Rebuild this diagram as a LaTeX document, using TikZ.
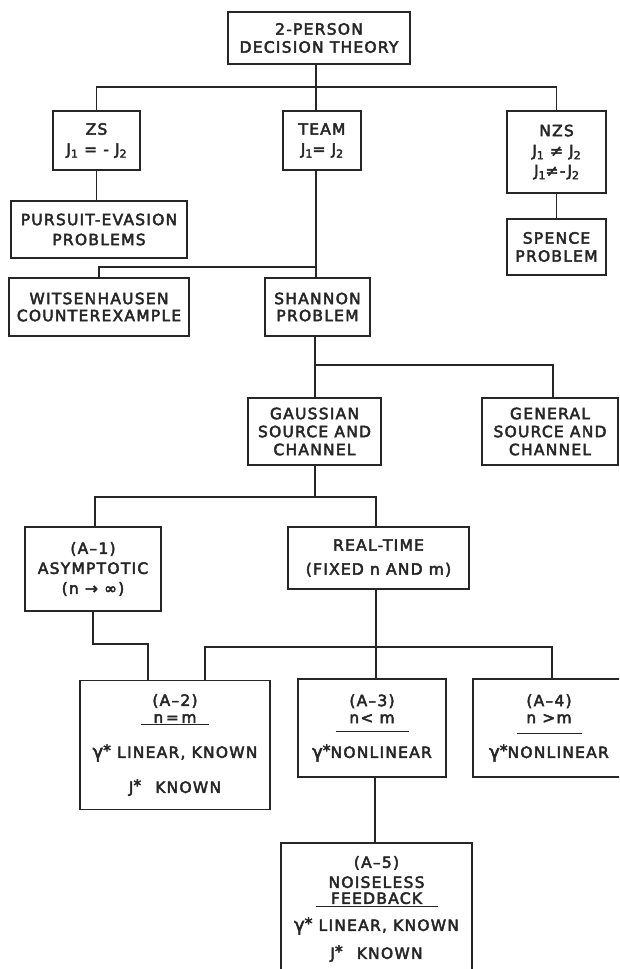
\documentclass[tikz,border=0pt]{standalone}
\usepackage{fontspec}
\newfontfamily\lett[LetterSpace=8,FakeBold=3]{DejaVu Sans}
\definecolor{ink}{HTML}{262626}
\newcommand\jsub[1]{\raisebox{-3pt}{\fontsize{11pt}{10pt}\selectfont #1}}
\newcommand\ulbox[3]{\vtop{\hbox to #1{\hss#3\hss}\kern#2\hrule height 1.3pt}}
\newcommand\gst{{\fontsize{18pt}{17pt}\selectfont γ}\raisebox{2pt}{*}}
\newcommand\jst{J\raisebox{2pt}{*}}
\begin{document}
\begin{tikzpicture}[x=1pt,y=-1pt,
  box/.style={draw=ink,line width=1.8pt,inner sep=0pt,align=center,text=ink,
              font=\lett\fontsize{15.5pt}{20pt}\selectfont},
  wire/.style={draw=ink,line width=1.3pt}]
\useasboundingbox (0,0) rectangle (619,969);
\fill[white] (0,0) rectangle (619,969);
\clip (0,0) rectangle (619,969);

% boxes
\node[box,minimum width=182,minimum height=52] (top) at (319,38) {2-PERSON\\[-2pt]DECISION THEORY};
\node[box,minimum width=87,minimum height=59] (zs) at (96.5,140.5) {ZS\\J\jsub{1} = - J\jsub{2}};
\node[box,minimum width=78,minimum height=59] (team) at (322,140.5) {TEAM\\J\jsub{1}= J\jsub{2}};
\node[box,minimum width=99,minimum height=82] (nzs) at (556.5,152) {NZS\\J\jsub{1} ≠ J\jsub{2}\\J\jsub{1}≠-J\jsub{2}};
\node[box,minimum width=176,minimum height=57] (pe) at (99,229.5) {PURSUIT-EVASION\\PROBLEMS};
\node[box,minimum width=99,minimum height=56] (sp) at (556.5,247) {SPENCE\\[-2pt]PROBLEM};
\node[box,minimum width=180,minimum height=58] (wit) at (99,307) {WITSENHAUSEN\\[-3pt]COUNTEREXAMPLE};
\node[box,minimum width=105,minimum height=58] (sh) at (317.5,307) {SHANNON\\[-3pt]PROBLEM};
\node[box,minimum width=133,minimum height=67] (ga) at (314.5,431.5) {GAUSSIAN\\[-2pt]SOURCE AND\\[-2pt]CHANNEL};
\node[box,minimum width=136,minimum height=67] (ge) at (550,431.5) {GENERAL\\[-2pt]SOURCE AND\\[-2pt]CHANNEL};
\node[box,minimum width=136,minimum height=84] (a1) at (93,569) {(A–1)\\ASYMPTOTIC\\(n → ∞)};
\node[box,minimum width=181,minimum height=62] (rt) at (378.5,558) {REAL-TIME\\[4pt](FIXED n AND m)};
\node[box,minimum width=190,minimum height=129] (a2) at (175,745)
  {(A–2)\\[-3pt]\ulbox{68pt}{1pt}{n\,=\,m}\\[15pt]\gst\ LINEAR, KNOWN\\[15pt]\jst\hspace{14pt}KNOWN};
\node[box,minimum width=148,minimum height=98] (a3) at (372,728)
  {(A–3)\\[-3pt]\ulbox{73pt}{8pt}{n< m}\\[11pt]\gst NONLINEAR};
\node[box,minimum width=152,minimum height=98] (a4) at (549,728)
  {(A–4)\\[-3pt]\ulbox{65pt}{10pt}{n >m}\\[9pt]\gst NONLINEAR};
\node[box,minimum width=191,minimum height=132] (a5) at (376.5,909)
  {(A–5)\\NOISELESS\\[-4pt]\ulbox{122pt}{2pt}{FEEDBACK}\\[7pt]\gst\ LINEAR, KNOWN\\[8pt]\jst\hspace{14pt}KNOWN};

% junction points
\coordinate (b1) at (316,87);
\coordinate (b2) at (316,267);
\coordinate (b3) at (315,365);
\coordinate (b3e) at (553,365);
\coordinate (b4w) at (95,497);
\coordinate (b4e) at (376,497);
\coordinate (k1) at (93,644);
\coordinate (k2) at (148,644);
\coordinate (b5w) at (205,647);
\coordinate (b5m) at (376,647);
\coordinate (b5e) at (552,647);

% connectors
\draw[wire] (top.south -| b1) -- (b1);
\draw[wire] (zs.north) -- (zs.north |- b1) -- (nzs.north |- b1) -- (nzs.north);
\draw[wire] (b1) -- (b1 |- team.north);
\draw[wire] (zs.south) -- (zs.south |- pe.north);
\draw[wire] (nzs.south) -- (sp.north);
\draw[wire] (b1 |- team.south) -- (b1 |- sh.north);
\draw[wire] (b2) -| (wit.north);
\draw[wire] (b3 |- sh.south) -- (b3 |- ga.north);
\draw[wire] (b3) -- (b3e) -- (b3e |- ge.north);
\draw[wire] (b3 |- ga.south) -- (b3 |- b4w);
\draw[wire] (b4w |- a1.north) -- (b4w) -- (b4e) -- (b4e |- rt.north);
\draw[wire] (k1 |- a1.south) -- (k1) -- (k2) -- (k2 |- a2.north);
\draw[wire] (b5m |- rt.south) -- (b5m |- a3.north);
\draw[wire] (b5w |- a2.north) -- (b5w) -- (b5e) -- (b5e |- a4.north);
\draw[wire] (a3.south -| 375,0) -- (a5.north -| 375,0);
\end{tikzpicture}
\end{document}
